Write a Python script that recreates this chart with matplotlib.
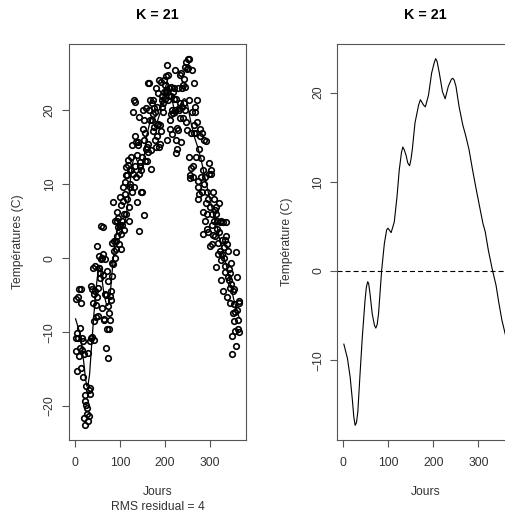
import numpy as np
import matplotlib
matplotlib.use('Agg')
import matplotlib.pyplot as plt

plt.rcParams['font.family'] = ['Liberation Sans', 'DejaVu Sans']
plt.rcParams['lines.scale_dashes'] = False

##########################################################################
# daily temperatures (one value per day, 10 days per row)
days = np.arange(1, 366)
temperatures = [
    -10.8, -5.5, -12.6, -15.2, -10.1, -5.3, -10.8, -4.2, -13.2, -9.4,
    -12.1, -4.2, -6.0, -14.9, -12.4, -10.8, -16.0, -11.2, -21.6, -13.0,
    -18.5, -22.6, -19.3, -17.3, -19.8, -21.1, -20.2, -22.0, -12.8, -17.8,
    -21.3, -11.2, -18.3, -17.5, -3.7, -10.8, -4.2, -10.6, -1.25, -6.0,
    -11.0, -8.5, -4.9, -4.4, -1.0, -6.3, -8.0, -5.2, 1.7, -4.0,
    -7.8, -1.25, 0.3, -1.25, -2.0, -2.7, -0.1, 4.4, -6.7, 0.1,
    0.6, -2.3, 4.2, -8.4, -8.2, -0.1, -4.9, -12.1, -5.0, -9.6,
    -1.7, -3.1, -13.5, -6.5, -7.4, -9.6, -5.1, -8.4, -5.7, -4.4,
    -2.4, 2.1, -0.6, 7.6, -0.8, 1.0, 2.4, 5.1, 0.0, 1.3,
    2.4, 6.2, 5.1, 3.0, 5.5, 4.2, 1.9, 3.7, 8.3, 4.5,
    1.25, 3.3, 7.2, 4.5, 5.0, 9.7, 7.8, 3.8, 6.0, 8.7,
    10.3, 11.2, 12.3, 6.0, 11.2, 8.0, 12.6, 13.3, 6.9, 5.1,
    9.6, 12.0, 10.0, 13.7, 11.9, 15.3, 9.0, 11.4, 19.8, 21.4,
    9.7, 21.2, 16.6, 12.5, 15.7, 11.0, 7.6, 14.0, 15.7, 15.3,
    19.1, 11.4, 3.7, 12.5, 13.0, 11.9, 8.9, 9.0, 13.7, 17.5,
    20.0, 5.8, 16.0, 18.7, 16.9, 13.2, 20.3, 14.8, 13.2, 15.0,
    23.7, 15.5, 14.4, 23.7, 20.0, 18.7, 21.4, 14.6, 12.1, 21.0,
    18.7, 21.4, 17.2, 19.5, 17.7, 20.3, 19.8, 16.0, 15.1, 23.0,
    16.6, 20.5, 18.0, 22.3, 18.2, 15.1, 24.1, 18.0, 15.5, 17.2,
    23.9, 21.4, 20.5, 22.0, 21.0, 19.8, 22.5, 24.1, 23.4, 21.5,
    22.8, 24.6, 26.2, 22.5, 16.0, 24.8, 21.4, 22.0, 23.0, 18.7,
    17.5, 22.0, 23.2, 19.5, 20.0, 16.8, 22.5, 19.7, 23.0, 21.5,
    25.5, 20.0, 14.2, 21.6, 16.0, 14.8, 17.6, 23.0, 17.3, 20.0,
    20.3, 24.8, 19.0, 21.0, 25.0, 15.7, 20.5, 23.0, 19.0, 23.5,
    21.0, 24.2, 25.9, 23.2, 20.0, 18.5, 26.6, 17.3, 25.6, 27.0,
    25.7, 27.0, 21.4, 13.7, 10.8, 11.3, 16.9, 12.2, 25.5, 19.8,
    12.5, 11.0, 18.0, 23.7, 16.9, 20.4, 19.8, 17.0, 13.7, 21.4,
    18.4, 10.5, 8.0, 9.6, 14.8, 8.7, 17.5, 16.5, 11.0, 13.5,
    17.0, 9.0, 12.0, 3.3, 6.3, 10.0, 16.0, 11.0, 5.0, 15.9,
    7.5, 4.0, 9.0, 6.0, 8.0, 3.5, 12.9, 11.4, 1.7, 7.0,
    12.0, 11.4, 1.9, 6.0, 4.5, 3.1, 9.0, 8.0, 5.0, 6.5,
    3.0, 7.0, 6.0, -1.2, 5.0, 4.0, 2.1, 0.6, 3.5, 7.5,
    4.9, 1.0, -3.0, -0.3, 5.0, 2.5, 0.6, -4.4, 4.9, 1.5,
    0.0, -1.9, 2.5, -1.0, 3.0, 4.9, -5.3, 1.9, 1.0, -2.5,
    -3.0, -1.5, -4.0, -2.0, -6.0, -0.6, -3.5, -13.0, -10.5, -7.4,
    -4.4, -8.5, -6.2, -4.2, -9.9, -7.3, 0.8, -11.9, -2.5, -7.0,
    -9.6, -8.4, -6.0, -10.0, -5.8,
]

# smoothed curve (Fourier basis, K = 21)
fit_days = [1, 9, 15, 20, 23, 26, 29, 32, 37, 42, 48, 51, 54, 56, 59, 64, 69,
            72, 75, 78, 85, 91, 96, 99, 106, 113, 119, 124, 129, 132, 135, 139,
            143, 147, 150, 153, 159, 167, 171, 178, 182, 189, 196, 202, 205,
            208, 213, 220, 226, 233, 240, 243, 246, 250, 257, 265, 272, 279,
            287, 294, 301, 310, 315, 322, 331, 339, 345, 352, 361, 365]
fit_temps = [-8.2, -9.8, -11.9, -14.5, -16.3, -17.3, -17.0, -15.8, -11.5, -7.4,
             -3.3, -1.8, -1.2, -1.4, -2.5, -4.8, -6.1, -6.4, -6.0, -4.8, 0.1,
             3.1, 4.6, 4.8, 4.3, 5.5, 8.3, 11.3, 13.3, 13.9, 13.6, 13.0, 12.1,
             11.8, 12.5, 13.6, 16.6, 18.6, 19.2, 18.6, 18.4, 19.7, 22.2, 23.4,
             23.8, 23.5, 22.2, 20.1, 19.3, 20.7, 21.5, 21.6, 21.4, 20.7, 18.4,
             16.4, 15.1, 13.6, 11.3, 9.4, 7.6, 5.3, 4.4, 2.3, 0.1, -1.6, -3.5,
             -5.5, -7.4, -8.1]

K = 21
rms_residual = 4

##########################################################################
def r_lim(values):
    lo, hi = min(values), max(values)
    pad = 0.04 * (hi - lo)
    return lo - pad, hi + pad

def r_axes(ax, yticks):
    for s in ax.spines.values():
        s.set_color('#555555')
        s.set_linewidth(0.8)
    ax.set_xticks([0, 100, 200, 300])
    ax.set_yticks(yticks)
    ax.tick_params(axis='both', length=5, width=0.8, color='#555555',
                   labelsize=8.7, labelcolor='#333333')
    ax.tick_params(axis='x', pad=7)
    ax.tick_params(axis='y', pad=4.5, labelrotation=90)
    for lab in ax.get_yticklabels():
        lab.set_va('center')

fig = plt.figure(figsize=(5.06, 5.14), dpi=100)
W, H = 506, 514
ax1 = fig.add_axes([69 / W, 74 / H, 177 / W, 396 / H])
ax2 = fig.add_axes([337.3 / W, 74 / H, 177 / W, 396 / H])

# left: data + fitted curve
ax1.plot(days, temperatures, linestyle='none', marker='o', markersize=4.0,
         markerfacecolor='none', markeredgecolor='black', markeredgewidth=1.2)
ax1.plot(fit_days, fit_temps, color='black', linewidth=0.9)
ax1.set_xlim(r_lim(days))
ax1.set_ylim(r_lim(temperatures))
r_axes(ax1, [-20, -10, 0, 10, 20])

# right: fitted curve alone
ax2.plot(fit_days, fit_temps, color='black', linewidth=0.8)
ax2.axhline(0, color='black', linewidth=0.8, linestyle=(0, (3.6, 2.2)))
ax2.set_xlim(r_lim(days))
ax2.set_ylim(r_lim(fit_temps))
r_axes(ax2, [-10, 0, 10, 20])

txt = dict(ha='center', va='center', color='#333333', fontsize=8.7)
fig.text(157.5 / W, 1 - 15 / H, f'K = {K}', ha='center', va='center',
         fontsize=10.3, fontweight='bold', color='black')
fig.text(425.8 / W, 1 - 15 / H, f'K = {K}', ha='center', va='center',
         fontsize=10.3, fontweight='bold', color='black')
fig.text(18 / W, 1 - 242 / H, 'Températures (C)', rotation=90, **txt)
fig.text(286.7 / W, 1 - 242 / H, 'Température (C)', rotation=90, **txt)
fig.text(157.5 / W, 1 - 491.7 / H, 'Jours', **txt)
fig.text(157.5 / W, 1 - 506.7 / H, f'RMS residual = {rms_residual}', **txt)
fig.text(425.8 / W, 1 - 491.7 / H, 'Jours', **txt)

fig.savefig('out.png', dpi=100)
